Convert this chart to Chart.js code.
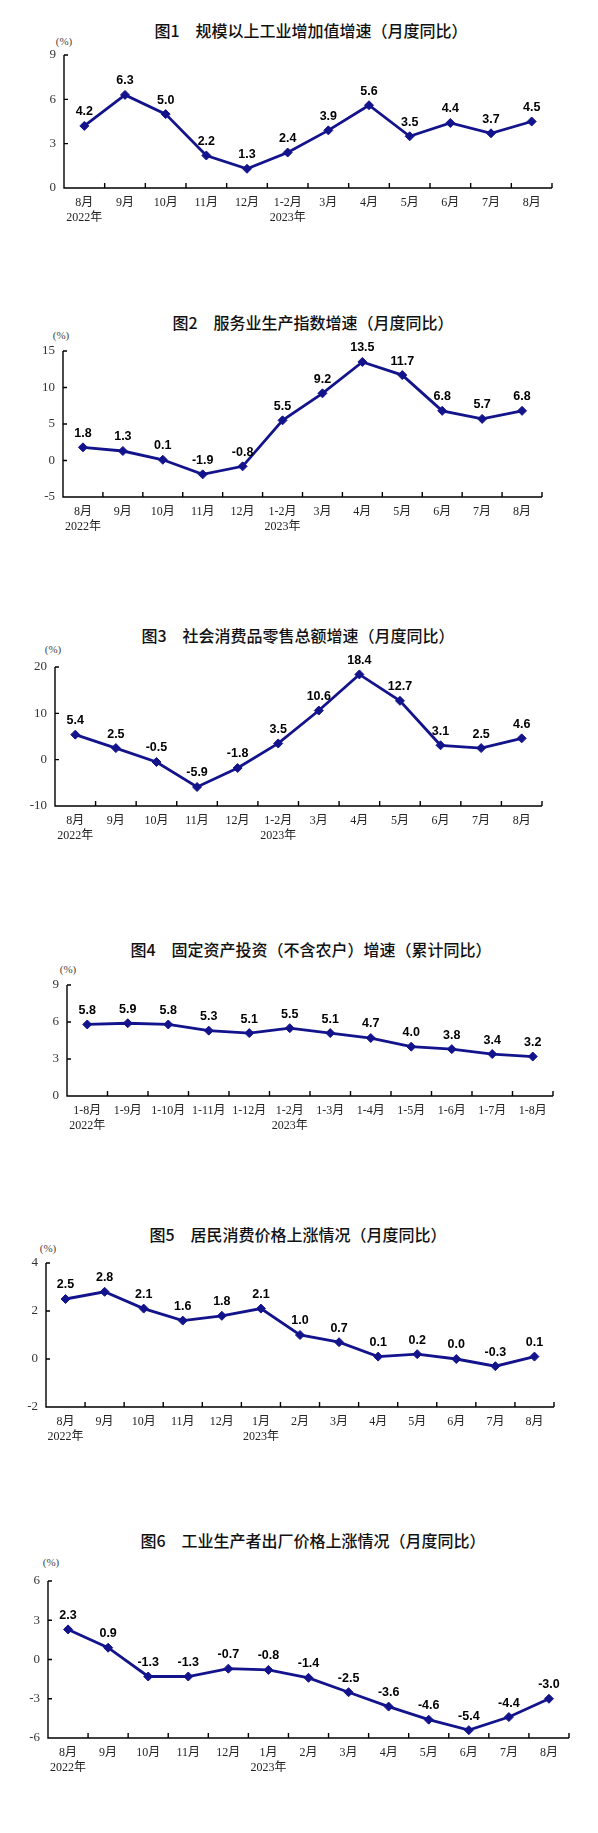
<!DOCTYPE html>
<html><head><meta charset="utf-8">
<script src="https://cdn.jsdelivr.net/npm/chart.js@4.4.0/dist/chart.umd.min.js"></script>
<style>
html,body{margin:0;padding:0;background:#fff;}
body{width:598px;height:1833px;position:relative;overflow:hidden;}
.title{position:absolute;transform:translate(-50%,-50%);white-space:nowrap;font-family:"Noto Sans CJK SC","Noto Sans";font-weight:500;font-size:16px;color:#111;}
.unit{position:absolute;transform:translate(-50%,-50%);white-space:nowrap;font-family:"Liberation Serif","DejaVu Serif";font-size:11px;color:#444;}
canvas{position:absolute;left:0;}
</style></head><body>
<script>
// ---------- data ----------
const monthCats12 = [["8月","2022年"],"9月","10月","11月","12月",["1-2月","2023年"],"3月","4月","5月","6月","7月","8月"];
const cumCats12   = [["1-8月","2022年"],"1-9月","1-10月","1-11月","1-12月",["1-2月","2023年"],"1-3月","1-4月","1-5月","1-6月","1-7月","1-8月"];
const monthCats13 = [["8月","2022年"],"9月","10月","11月","12月",["1月","2023年"],"2月","3月","4月","5月","6月","7月","8月"];

const industryValues = [4.2,6.3,5.0,2.2,1.3,2.4,3.9,5.6,3.5,4.4,3.7,4.5];
const servicesValues = [1.8,1.3,0.1,-1.9,-0.8,5.5,9.2,13.5,11.7,6.8,5.7,6.8];
const retailValues   = [5.4,2.5,-0.5,-5.9,-1.8,3.5,10.6,18.4,12.7,3.1,2.5,4.6];
const investValues   = [5.8,5.9,5.8,5.3,5.1,5.5,5.1,4.7,4.0,3.8,3.4,3.2];
const cpiValues      = [2.5,2.8,2.1,1.6,1.8,2.1,1.0,0.7,0.1,0.2,0.0,-0.3,0.1];
const ppiValues      = [2.3,0.9,-1.3,-1.3,-0.7,-0.8,-1.4,-2.5,-3.6,-4.6,-5.4,-4.4,-3.0];

const industryTicks = [0,3,6,9];
const servicesTicks = [-5,0,5,10,15];
const retailTicks   = [-10,0,10,20];
const investTicks   = [0,3,6,9];
const cpiTicks      = [-2,0,2,4];
const ppiTicks      = [-6,-3,0,3,6];

const titles = [
  "图1　规模以上工业增加值增速（月度同比）",
  "图2　服务业生产指数增速（月度同比）",
  "图3　社会消费品零售总额增速（月度同比）",
  "图4　固定资产投资（不含农户）增速（累计同比）",
  "图5　居民消费价格上涨情况（月度同比）",
  "图6　工业生产者出厂价格上涨情况（月度同比）"
];
const unitLabel = "(%)";

// ---------- layout (page pixels) ----------
const layouts = [
  {L:64, R:552, T:55,   B:188,  tx:311, ty:30,   ux:64, uy:41},
  {L:63, R:542, T:351,  B:497,  tx:313, ty:322,  ux:61, uy:335},
  {L:55, R:542, T:667,  B:806,  tx:298, ty:635,  ux:53, uy:649},
  {L:67, R:553, T:985,  B:1096, tx:311, ty:949,  ux:68, uy:969},
  {L:46, R:554, T:1263, B:1407, tx:298, ty:1234, ux:48, uy:1248},
  {L:48, R:569, T:1581, B:1738, tx:313, ty:1540, ux:51, uy:1562}
];
const specs = [
  {cats:monthCats12, vals:industryValues, ticks:industryTicks},
  {cats:monthCats12, vals:servicesValues, ticks:servicesTicks},
  {cats:monthCats12, vals:retailValues,   ticks:retailTicks},
  {cats:cumCats12,   vals:investValues,   ticks:investTicks},
  {cats:monthCats13, vals:cpiValues,      ticks:cpiTicks},
  {cats:monthCats13, vals:ppiValues,      ticks:ppiTicks}
];

const NAVY = '#13138c';
const TOPPAD = 40, XAXIS_H = 60;

const axesPlugin = {
  id:'axesDecor',
  beforeDatasetsDraw(chart){
    const ctx = chart.ctx, a = chart.chartArea;
    const xs = chart.scales.x, ys = chart.scales.y;
    ctx.save();
    ctx.strokeStyle = '#000';
    ctx.lineWidth = 1.4;
    ctx.beginPath();
    ctx.moveTo(a.left, a.top); ctx.lineTo(a.left, a.bottom); ctx.lineTo(a.right, a.bottom);
    ys.ticks.forEach(t => {
      const y = ys.getPixelForValue(t.value);
      ctx.moveTo(a.left, y); ctx.lineTo(a.left + 4, y);
    });
    const n = xs.ticks.length;
    const half = (xs.getPixelForValue(1) - xs.getPixelForValue(0)) / 2;
    for (let i = 1; i <= n; i++) {
      const x = xs.getPixelForValue(i - 1) + half;
      ctx.moveTo(x, a.bottom); ctx.lineTo(x, a.bottom - 5);
    }
    ctx.stroke();
    ctx.restore();
  },
  afterDatasetsDraw(chart){
    const ctx = chart.ctx;
    const meta = chart.getDatasetMeta(0);
    const vals = chart.data.datasets[0].data;
    ctx.save();
    ctx.font = 'bold 12.5px "Liberation Sans", Arial, sans-serif';
    ctx.fillStyle = '#000';
    ctx.textAlign = 'center';
    ctx.textBaseline = 'middle';
    meta.data.forEach((p, i) => ctx.fillText(vals[i].toFixed(1), p.x, p.y - 14));
    ctx.restore();
  }
};

specs.forEach((s, k) => {
  const lo = layouts[k];
  const t = document.createElement('div');
  t.className = 'title'; t.textContent = titles[k];
  t.style.left = lo.tx + 'px'; t.style.top = lo.ty + 'px';
  document.body.appendChild(t);
  const u = document.createElement('div');
  u.className = 'unit'; u.textContent = unitLabel;
  u.style.left = lo.ux + 'px'; u.style.top = lo.uy + 'px';
  document.body.appendChild(u);

  const c = document.createElement('canvas');
  const h = lo.B - lo.T + TOPPAD + XAXIS_H;
  c.width = 598; c.height = h;
  c.style.width = '598px'; c.style.height = h + 'px';
  c.style.top = (lo.T - TOPPAD) + 'px';
  document.body.appendChild(c);

  new Chart(c, {
    type:'line',
    data:{
      labels: s.cats,
      datasets:[{
        data: s.vals,
        borderColor: NAVY,
        backgroundColor: NAVY,
        pointBackgroundColor: NAVY,
        pointBorderColor: NAVY,
        borderWidth: 2.8,
        pointStyle: 'rectRot',
        pointRadius: 4.5,
        pointBorderWidth: 1,
        tension: 0,
        clip: false
      }]
    },
    options:{
      responsive:false,
      animation:false,
      devicePixelRatio:1,
      layout:{padding:{top:TOPPAD, right:598 - lo.R, left:0, bottom:0}},
      plugins:{legend:{display:false}, tooltip:{enabled:false}, title:{display:false}},
      scales:{
        x:{
          type:'category',
          offset:true,
          grid:{display:false, drawTicks:false},
          border:{display:false},
          ticks:{
            autoSkip:false, maxRotation:0, minRotation:0,
            padding:7,
            color:'#222',
            font:{family:'"Liberation Serif", "Noto Sans CJK SC"', size:12, lineHeight:1.25}
          },
          afterFit: sc => { sc.height = XAXIS_H; }
        },
        y:{
          type:'linear',
          min: s.ticks[0], max: s.ticks[s.ticks.length - 1],
          grid:{display:false, drawTicks:false},
          border:{display:false},
          ticks:{
            padding:8,
            color:'#333',
            font:{family:'"Liberation Serif", "DejaVu Serif"', size:13}
          },
          afterBuildTicks: sc => { sc.ticks = s.ticks.map(v => ({value:v})); },
          afterFit: sc => { sc.width = lo.L; }
        }
      }
    },
    plugins:[axesPlugin]
  });
});
</script>
</body></html>
